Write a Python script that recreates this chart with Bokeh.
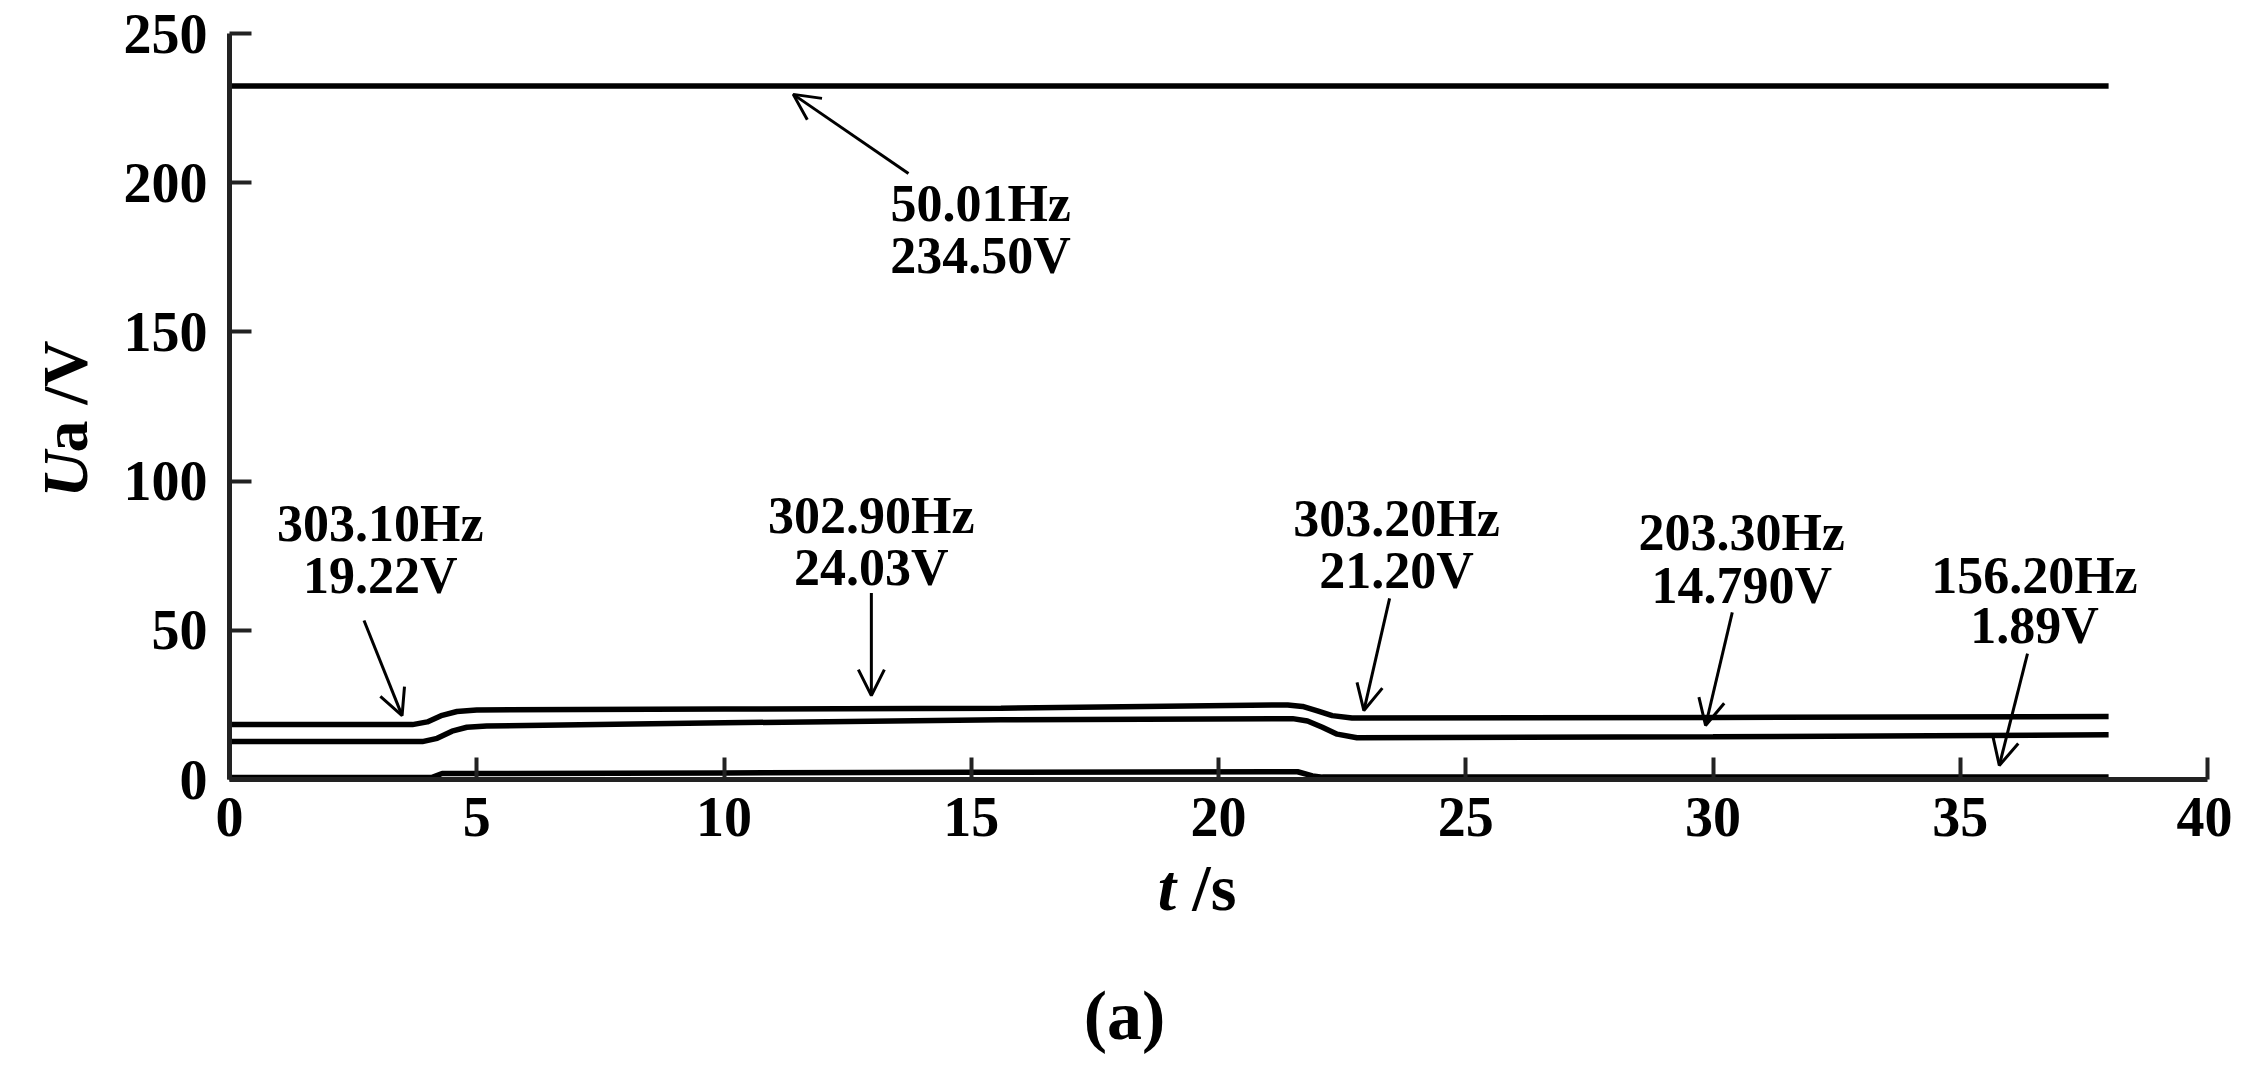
from bokeh.plotting import figure
from bokeh.models import Range1d, FixedTicker, Arrow, OpenHead, ColumnDataSource, LinearAxis
from bokeh.core.properties import value
from bokeh.embed import file_html
from bokeh.resources import INLINE

# ---------------- data ----------------
x_ticks = [0, 5, 10, 15, 20, 25, 30, 35, 40]
y_ticks = [0, 50, 100, 150, 200, 250]

# fundamental 50.01 Hz
t_fund = [0, 38]
u_fund = [232.4, 232.4]

# upper harmonic trace (~303 Hz)
t_h1 = [0, 3.7, 4.0, 4.3, 4.6, 5.0, 10, 15.6, 21.4, 21.7, 22.0, 22.3, 22.7, 30, 38]
u_h1 = [18.4, 18.4, 19.3, 21.5, 22.8, 23.3, 23.6, 23.9, 25.0, 24.5, 23.0, 21.4, 20.6, 20.8, 21.1]

# lower harmonic trace (~203 Hz)
t_h2 = [0, 3.9, 4.2, 4.5, 4.8, 5.2, 10, 15.6, 21.5, 21.8, 22.1, 22.4, 22.8, 30, 38]
u_h2 = [12.7, 12.7, 13.8, 16.2, 17.5, 17.9, 19.0, 20.0, 20.4, 19.6, 17.5, 15.2, 14.0, 14.3, 15.0]

# bottom trace (~156 Hz)
t_h3 = [0, 4.1, 4.3, 10, 15, 21.6, 21.9, 22.1, 30, 38]
u_h3 = [0.7, 0.7, 2.0, 2.2, 2.4, 2.6, 1.2, 0.8, 0.8, 0.8]

ann_freq = ["50.01Hz", "303.10Hz", "302.90Hz", "303.20Hz", "203.30Hz", "156.20Hz"]
ann_volt = ["234.50V", "19.22V", "24.03V", "21.20V", "14.790V", "1.89V"]

# ---------------- placement of annotations ----------------
ann_x = [15.19, 3.05, 12.98, 23.6, 30.58, 36.5]
ann_y1 = [193.0, 85.8, 88.5, 87.5, 82.8, 68.4]
ann_y2 = [175.6, 68.4, 71.0, 70.0, 65.0, 51.6]
arrows = [  # (tail_x, tail_y, tip_x, tip_y)
    (13.73, 203.1, 11.4, 229.6),
    (2.72, 53.3, 3.49, 21.4),
    (12.98, 62.5, 12.98, 28.1),
    (23.46, 60.7, 22.94, 23.1),
    (30.39, 56.0, 29.85, 18.1),
    (36.36, 42.2, 35.79, 4.7),
]

FONT = "Liberation Serif"
W, H = 2232, 1062
X0_PX, PX_PER_S = 229.0, 49.45      # pixel of t=0, pixels per second
Y0_PX, PX_PER_V = 779.0, 2.984      # pixel of U=0, pixels per volt

x_range = Range1d(-X0_PX / PX_PER_S, (W - X0_PX) / PX_PER_S)
y_range = Range1d((Y0_PX - H) / PX_PER_V, Y0_PX / PX_PER_V)

p = figure(width=W, height=H, output_backend="svg", toolbar_location=None,
           x_range=x_range, y_range=y_range,
           x_axis_location=None, y_axis_location=None,
           min_border=0)
p.outline_line_color = None
p.xgrid.grid_line_color = None
p.ygrid.grid_line_color = None
p.background_fill_color = "white"
p.border_fill_color = "white"

xaxis = LinearAxis(fixed_location=0, bounds=(0, 40), ticker=FixedTicker(ticks=x_ticks))
yaxis = LinearAxis(fixed_location=0, bounds=(0, 250), ticker=FixedTicker(ticks=y_ticks))
for ax in (xaxis, yaxis):
    ax.major_tick_in = 22
    ax.major_tick_out = 0
    ax.minor_tick_line_color = None
    ax.axis_line_width = 5
    ax.axis_line_color = "#222222"
    ax.major_tick_line_width = 4
    ax.major_tick_line_color = "#222222"
    ax.major_label_text_font = FONT
    ax.major_label_text_font_style = "bold"
    ax.major_label_text_font_size = "56px"
    ax.major_label_text_color = "black"
xaxis.major_label_standoff = 18
yaxis.major_label_standoff = 22
p.add_layout(xaxis, "below")
p.add_layout(yaxis, "left")

lw = 5.5
p.line(t_fund, u_fund, line_width=lw, line_color="black")
p.line(t_h1, u_h1, line_width=lw, line_color="black")
p.line(t_h2, u_h2, line_width=lw, line_color="black")
p.line(t_h3, u_h3, line_width=lw, line_color="black")

src = ColumnDataSource(dict(
    x=ann_x + ann_x,
    y=ann_y1 + ann_y2,
    text=ann_freq + ann_volt,
))
p.text(x="x", y="y", text="text", source=src, text_font=value(FONT), text_font_style="bold",
       text_font_size="52px", text_align="center", text_baseline="alphabetic", text_color="black")

for (x0, y0, x1, y1) in arrows:
    p.add_layout(Arrow(x_start=x0, y_start=y0, x_end=x1, y_end=y1, line_width=3, line_color="black",
                       end=OpenHead(size=26, line_width=3, line_color="black")))


def put_text(x, y, txt, size, style="bold", align="left", angle=0.0):
    p.text(x=[x], y=[y], text=[txt], text_font=value(FONT), text_font_style=style,
           text_font_size=size, text_align=align, text_baseline="alphabetic",
           text_color="black", angle=angle)


# axis titles and panel caption
put_text(18.77, -36.2, "t", "66px", style="bold italic")
put_text(19.47, -36.2, " /s", "66px")
put_text(-3.32, 94.5, "U", "64px", style="bold italic", angle=1.5707963)
put_text(-3.32, 109.6, "a /V", "64px", angle=1.5707963)
put_text(18.1, -79.1, "(a)", "70px", align="center")

open("out.html", "w").write(file_html(p, INLINE))
